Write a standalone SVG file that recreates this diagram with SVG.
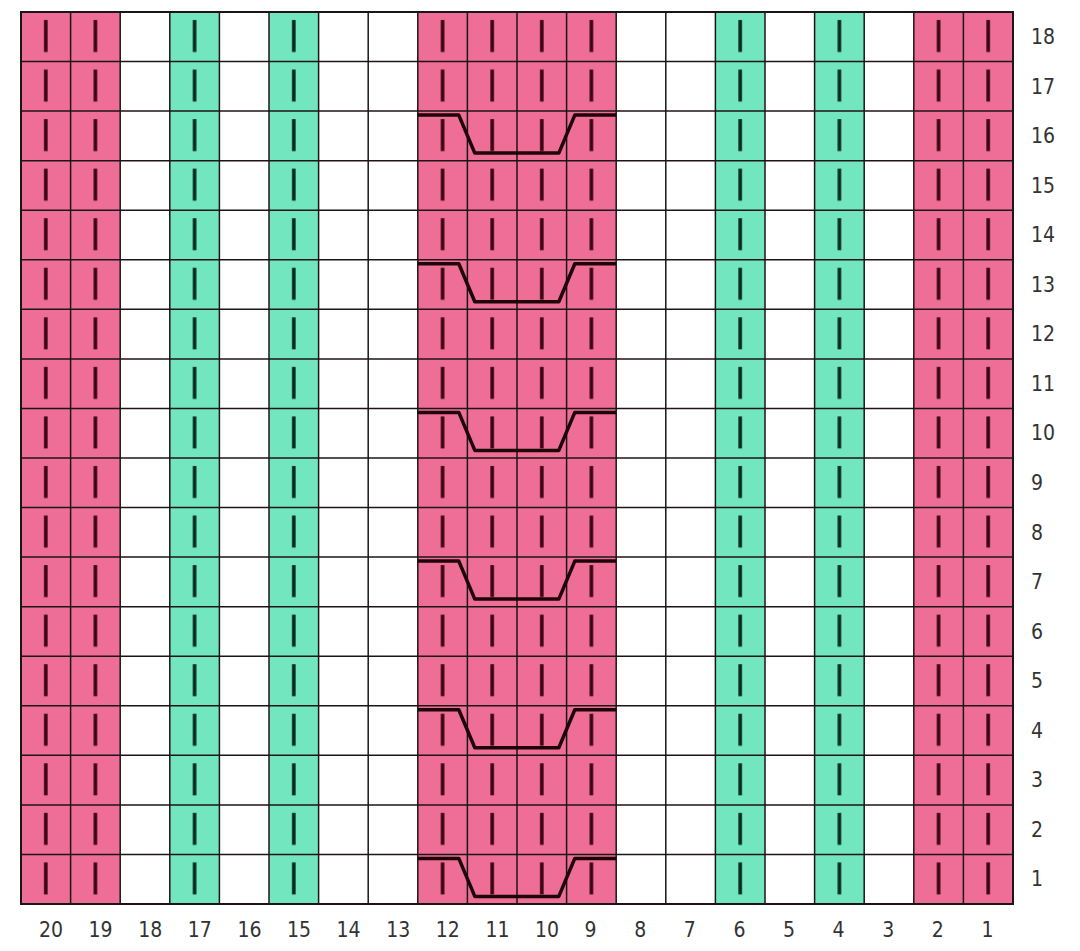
<svg xmlns="http://www.w3.org/2000/svg" width="1080" height="951" viewBox="0 0 1080 951">
<style>
.grid line{stroke:#1c1416;stroke-width:1.5}
.border{fill:none;stroke:#1c1416;stroke-width:2}
.cable{fill:none;stroke:#1e0509;stroke-width:3.5;stroke-linejoin:round}
.lbl{font-family:"DejaVu Sans Condensed","DejaVu Sans",sans-serif;font-size:21px;fill:#333333}
</style>
<defs>
<pattern id="pk" patternUnits="userSpaceOnUse" x="21" y="12" width="49.6" height="49.555">
<rect width="49.6" height="49.555" fill="#EE6E97"/>
<line x1="24.8" y1="8" x2="24.8" y2="40" stroke="#3a0512" stroke-width="3.6"/>
</pattern>
<pattern id="gr" patternUnits="userSpaceOnUse" x="21" y="12" width="49.6" height="49.555">
<rect width="49.6" height="49.555" fill="#72E6BE"/>
<line x1="24.8" y1="8" x2="24.8" y2="40" stroke="#082a1c" stroke-width="3.6"/>
</pattern>
<path id="cab" d="M0,4 H41 L57,42 H141 L157,4 H198.4"/>
</defs>
<rect width="1080" height="951" fill="#ffffff"/>
<g id="col-20-19"><rect x="21" y="12" width="99.2" height="892" fill="url(#pk)"/></g>
<g id="col-17"><rect x="169.8" y="12" width="49.6" height="892" fill="url(#gr)"/></g>
<g id="col-15"><rect x="269" y="12" width="49.6" height="892" fill="url(#gr)"/></g>
<g id="col-12-9"><rect x="417.8" y="12" width="198.4" height="892" fill="url(#pk)"/></g>
<g id="col-6"><rect x="715.4" y="12" width="49.6" height="892" fill="url(#gr)"/></g>
<g id="col-4"><rect x="814.6" y="12" width="49.6" height="892" fill="url(#gr)"/></g>
<g id="col-2-1"><rect x="913.8" y="12" width="99.2" height="892" fill="url(#pk)"/></g>
<g class="grid" id="grid">
<line x1="70.6" y1="12" x2="70.6" y2="904"/>
<line x1="120.2" y1="12" x2="120.2" y2="904"/>
<line x1="169.8" y1="12" x2="169.8" y2="904"/>
<line x1="219.4" y1="12" x2="219.4" y2="904"/>
<line x1="269" y1="12" x2="269" y2="904"/>
<line x1="318.6" y1="12" x2="318.6" y2="904"/>
<line x1="368.2" y1="12" x2="368.2" y2="904"/>
<line x1="417.8" y1="12" x2="417.8" y2="904"/>
<line x1="467.4" y1="12" x2="467.4" y2="904"/>
<line x1="517" y1="12" x2="517" y2="904"/>
<line x1="566.6" y1="12" x2="566.6" y2="904"/>
<line x1="616.2" y1="12" x2="616.2" y2="904"/>
<line x1="665.8" y1="12" x2="665.8" y2="904"/>
<line x1="715.4" y1="12" x2="715.4" y2="904"/>
<line x1="765" y1="12" x2="765" y2="904"/>
<line x1="814.6" y1="12" x2="814.6" y2="904"/>
<line x1="864.2" y1="12" x2="864.2" y2="904"/>
<line x1="913.8" y1="12" x2="913.8" y2="904"/>
<line x1="963.4" y1="12" x2="963.4" y2="904"/>
<line x1="21" y1="61.56" x2="1013" y2="61.56"/>
<line x1="21" y1="111.11" x2="1013" y2="111.11"/>
<line x1="21" y1="160.67" x2="1013" y2="160.67"/>
<line x1="21" y1="210.22" x2="1013" y2="210.22"/>
<line x1="21" y1="259.78" x2="1013" y2="259.78"/>
<line x1="21" y1="309.33" x2="1013" y2="309.33"/>
<line x1="21" y1="358.89" x2="1013" y2="358.89"/>
<line x1="21" y1="408.44" x2="1013" y2="408.44"/>
<line x1="21" y1="458" x2="1013" y2="458"/>
<line x1="21" y1="507.56" x2="1013" y2="507.56"/>
<line x1="21" y1="557.11" x2="1013" y2="557.11"/>
<line x1="21" y1="606.67" x2="1013" y2="606.67"/>
<line x1="21" y1="656.22" x2="1013" y2="656.22"/>
<line x1="21" y1="705.78" x2="1013" y2="705.78"/>
<line x1="21" y1="755.33" x2="1013" y2="755.33"/>
<line x1="21" y1="804.89" x2="1013" y2="804.89"/>
<line x1="21" y1="854.44" x2="1013" y2="854.44"/>
<rect class="border" x="21" y="12" width="992" height="892"/>
</g>
<g id="cables" class="cable">
<use href="#cab" transform="translate(417.8,111.11)"/>
<use href="#cab" transform="translate(417.8,259.78)"/>
<use href="#cab" transform="translate(417.8,408.44)"/>
<use href="#cab" transform="translate(417.8,557.11)"/>
<use href="#cab" transform="translate(417.8,705.78)"/>
<use href="#cab" transform="translate(417.8,854.44)"/>
</g>
<g id="row-labels" class="lbl">
<text x="1031" y="44">18</text>
<text x="1031" y="93.56">17</text>
<text x="1031" y="143.11">16</text>
<text x="1031" y="192.67">15</text>
<text x="1031" y="242.22">14</text>
<text x="1031" y="291.78">13</text>
<text x="1031" y="341.33">12</text>
<text x="1031" y="390.89">11</text>
<text x="1031" y="440.44">10</text>
<text x="1031" y="490">9</text>
<text x="1031" y="539.56">8</text>
<text x="1031" y="589.11">7</text>
<text x="1031" y="638.67">6</text>
<text x="1031" y="688.22">5</text>
<text x="1031" y="737.78">4</text>
<text x="1031" y="787.33">3</text>
<text x="1031" y="836.89">2</text>
<text x="1031" y="886.44">1</text>
</g>
<g id="col-labels" class="lbl">
<text x="39" y="936.5">20</text>
<text x="88.6" y="936.5">19</text>
<text x="138.2" y="936.5">18</text>
<text x="187.8" y="936.5">17</text>
<text x="237.4" y="936.5">16</text>
<text x="287" y="936.5">15</text>
<text x="336.6" y="936.5">14</text>
<text x="386.2" y="936.5">13</text>
<text x="435.8" y="936.5">12</text>
<text x="485.4" y="936.5">11</text>
<text x="535" y="936.5">10</text>
<text x="584.6" y="936.5">9</text>
<text x="634.2" y="936.5">8</text>
<text x="683.8" y="936.5">7</text>
<text x="733.4" y="936.5">6</text>
<text x="783" y="936.5">5</text>
<text x="832.6" y="936.5">4</text>
<text x="882.2" y="936.5">3</text>
<text x="931.8" y="936.5">2</text>
<text x="981.4" y="936.5">1</text>
</g>
</svg>
